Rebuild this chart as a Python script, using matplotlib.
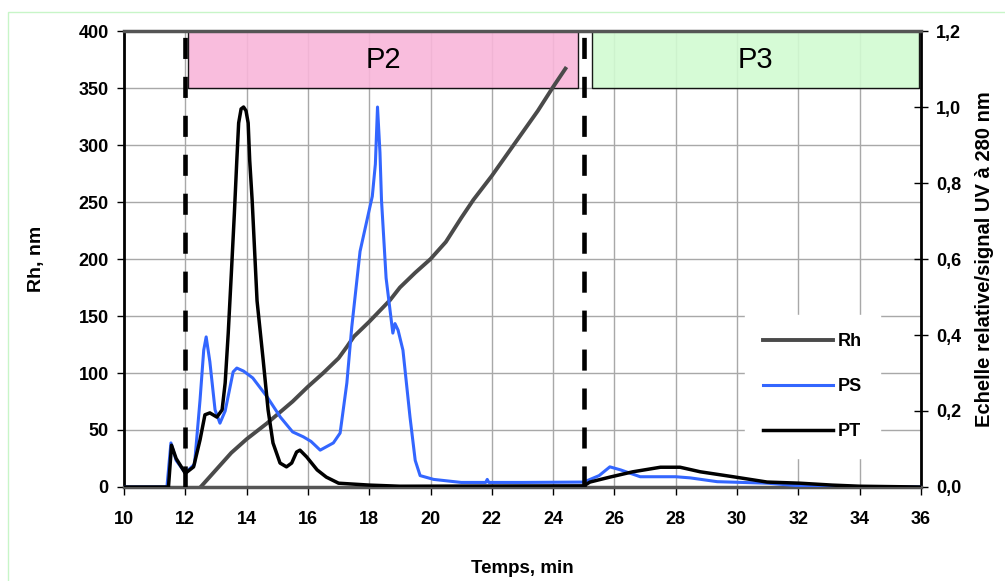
"""Rh and UV traces versus elution time, with P2/P3 windows."""

import matplotlib
matplotlib.use("Agg")
import matplotlib.pyplot as plt
from matplotlib.patches import Rectangle
from matplotlib.ticker import FuncFormatter, MultipleLocator

# Rh (nm, left axis)
rh_t = [12.5, 12.8, 13.5, 14.0, 14.67, 15.5, 16.0, 16.5, 17.0, 17.27, 17.5, 18.0,
        18.68, 19.0, 19.5, 20.0, 20.5, 21.0, 21.4, 22.0, 22.5, 23.0, 23.5, 24.0, 24.4]
rh = [0, 9, 30, 42, 56, 75, 88, 100, 113, 123, 132, 145,
      164, 175, 188, 200, 215, 236, 252, 273, 292, 311, 330, 351, 367]

# PS (relative UV, right axis)
ps_t = [10.0, 11.4, 11.53, 11.7, 12.0, 12.3, 12.48, 12.6, 12.68, 12.8, 12.97, 13.13,
        13.3, 13.56, 13.68, 13.9, 14.2, 14.67, 15.1, 15.5, 15.85, 16.1, 16.4, 16.83,
        17.05, 17.27, 17.43, 17.7, 18.03, 18.1, 18.2, 18.27, 18.35, 18.4, 18.55, 18.77,
        18.84, 18.94, 19.1, 19.33, 19.5, 19.66, 20.1, 21.0, 21.8, 21.85, 21.9, 23.0,
        25.0, 25.5, 25.85, 26.2, 26.84, 28.0, 28.47, 29.35, 30.98, 32.06, 33.0, 36.0]
ps = [0, 0, 0.116, 0.07, 0.037, 0.06, 0.229, 0.36, 0.395, 0.33, 0.203, 0.168,
      0.2, 0.303, 0.313, 0.305, 0.287, 0.237, 0.184, 0.145, 0.132, 0.12, 0.097, 0.116,
      0.142, 0.274, 0.421, 0.62, 0.74, 0.765, 0.85, 1.0, 0.88, 0.755, 0.55, 0.405,
      0.43, 0.413, 0.36, 0.184, 0.07, 0.03, 0.02, 0.012, 0.012, 0.02, 0.012, 0.012,
      0.013, 0.03, 0.053, 0.045, 0.027, 0.027, 0.024, 0.014, 0.01, 0.003, 0, 0]

# PT (relative UV, right axis)
pt_t = [10.0, 11.45, 11.55, 11.7, 12.0, 12.27, 12.48, 12.64, 12.8, 13.03, 13.2, 13.3,
        13.4, 13.5, 13.6, 13.68, 13.74, 13.82, 13.9, 13.98, 14.05, 14.1, 14.18, 14.34, 14.54,
        14.7, 14.86, 15.09, 15.3, 15.47, 15.63, 15.74, 15.96, 16.3, 16.6, 17.0, 18.0,
        19.0, 25.0, 25.2, 25.85, 26.6, 27.5, 28.14, 28.8, 29.87, 30.98, 32.05, 33.1,
        34.0, 36.0]
pt = [0, 0, 0.11, 0.075, 0.036, 0.053, 0.124, 0.19, 0.195, 0.184, 0.203, 0.274,
      0.405, 0.56, 0.72, 0.86, 0.958, 0.995, 1.0, 0.99, 0.958, 0.86, 0.755, 0.49, 0.334,
      0.203, 0.116, 0.063, 0.053, 0.063, 0.092, 0.097, 0.079, 0.045, 0.026, 0.01, 0.005,
      0.002, 0.003, 0.013, 0.026, 0.04, 0.052, 0.052, 0.04, 0.027, 0.013, 0.01, 0.005,
      0.002, 0]

# fraction windows: (label, start, end, colour), Rh band 350-400
windows = [("P2", 12.1, 24.8, "#F9B6DA"), ("P3", 25.27, 35.94, "#D2FBD2")]
cuts = [12.0, 25.0]

plt.rcParams.update({"font.family": ["Liberation Sans", "DejaVu Sans"],
                     "font.size": 13, "font.weight": "bold"})

fig = plt.figure(figsize=(10.05, 5.81), dpi=100)
fig.patches.append(Rectangle((8 / 1005, -0.01), 1.0, 1 - 12 / 581 + 0.01,
                             transform=fig.transFigure, fill=False,
                             edgecolor="#C8F5C8", linewidth=1))
ax = fig.add_axes([0.1234, 0.1618, 0.7930, 0.7848])
ax2 = ax.twinx()

ax.set_xlim(10, 36)
ax.set_ylim(0, 400)
ax2.set_ylim(0, 1.2)
ax.xaxis.set_major_locator(MultipleLocator(2))
ax.yaxis.set_major_locator(MultipleLocator(50))
ax2.yaxis.set_major_locator(MultipleLocator(0.2))
ax2.yaxis.set_major_formatter(FuncFormatter(lambda v, _: f"{v:.1f}".replace(".", ",")))

ax.grid(True, color="#A8A8A8", linewidth=1, zorder=0)
ax.set_axisbelow(True)

for name, x0, x1, colour in windows:
    ax.add_patch(Rectangle((x0, 350), x1 - x0, 50, facecolor=colour, alpha=0.9,
                           edgecolor="black", linewidth=1, zorder=1))
    ax.text((x0 + x1) / 2, 375, name, ha="center", va="center",
            fontsize=21, fontweight="normal", zorder=2)

rh_line, = ax.plot(rh_t, rh, color="#4A4A4A", linewidth=2.8, zorder=3, label="Rh")
ps_line, = ax2.plot(ps_t, ps, color="#3366FF", linewidth=2.2, label="PS", zorder=3)
pt_line, = ax2.plot(pt_t, pt, color="black", linewidth=2.5, label="PT", zorder=4)

for x in cuts:
    ax2.plot([x, x], [0, 1.2], color="black", linewidth=3.3,
             linestyle=(0, (4.6, 3.9)), zorder=5)

for side in ["left", "right"]:
    ax2.spines[side].set_linewidth(2)
ax2.spines["top"].set_color("#555555")
ax2.spines["top"].set_linewidth(2.5)
ax2.spines["bottom"].set_color("#555555")
ax2.spines["bottom"].set_linewidth(2.5)
for side in ax.spines:
    ax.spines[side].set_visible(False)

ax.tick_params(axis="x", direction="out", length=6, width=1, pad=11)
ax.tick_params(axis="y", direction="out", length=5, width=1, pad=6)
ax2.tick_params(axis="y", direction="inout", length=10, width=1, pad=6)

ax.set_xlabel("Temps, min", fontweight="bold", fontsize=13.5, labelpad=23)
ax.set_ylabel("Rh, nm", fontweight="bold", fontsize=14, labelpad=24)
ax2.set_ylabel("Echelle relative/signal UV à 280 nm", fontweight="bold",
               fontsize=14.5, labelpad=10)

leg = ax2.legend(handles=[rh_line, ps_line, pt_line], loc="upper left",
                 bbox_to_anchor=(0.779, 0.377), borderaxespad=0, borderpad=1.0,
                 handlelength=3.9, handletextpad=0.25, labelspacing=1.55,
                 fancybox=False, framealpha=1, edgecolor="white",
                 prop={"weight": "bold", "size": 13})
leg.set_zorder(6)

fig.savefig("out.png", dpi=100)
